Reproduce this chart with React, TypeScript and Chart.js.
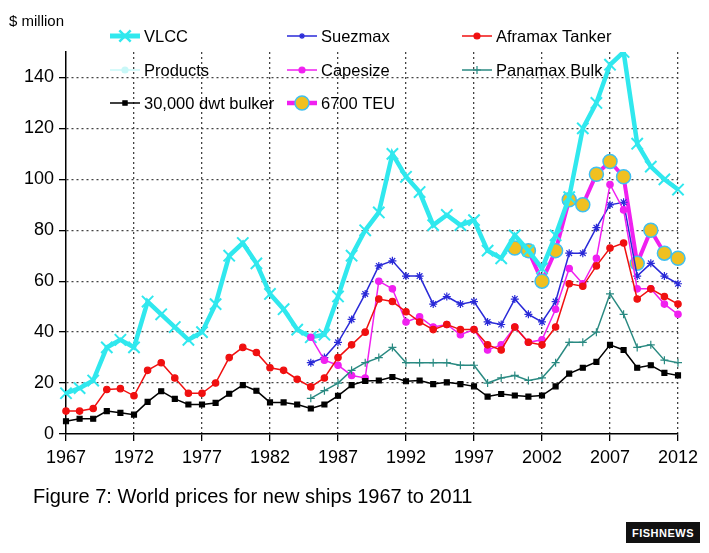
import React, { useEffect, useRef } from "react";
import { Chart, registerables } from "chart.js";
import { drawPoint } from "chart.js/helpers";
Chart.register(...registerables);

const years = Array.from({ length: 46 }, (_, i) => String(1967 + i));
const N = null;
const vlcc = [16,18,21,34,37,34,52,47,42,37,40,51,70,75,67,55,49,41,38,39,54,70,80,87,110,101,95,82,86,82,84,72,69,78,72,65,78,93,120,130,145,150,114,105,100,96];
const suezmax = [N,N,N,N,N,N,N,N,N,N,N,N,N,N,N,N,N,N,28,30,36,45,55,66,68,62,62,51,54,51,52,44,43,53,47,44,52,71,71,81,90,91,62,67,62,59];
const aframax = [9,9,10,17.5,17.8,15,25,28,22,16,16,20,30,34,32,26,25,21.5,18.5,22,30,35,40,53,52,48,44,41,43,41,41,35,33,42,36,35,42,59,58,66,73,75,53,57,54,51];
const products: (number | null)[] = [];
const capesize = [N,N,N,N,N,N,N,N,N,N,N,N,N,N,N,N,N,N,38,29,27,23,22,60,57,44,46,42,43,39,41,33,35,42,36,37,49,65,59,69,98,88,57,57,51,47];
const panamax = [N,N,N,N,N,N,N,N,N,N,N,N,N,N,N,N,N,N,14,17,20,25,28,30,34,28,28,28,28,27,27,20,22,23,21,22,28,36,36,40,55,47,34,35,29,28];
const bulker = [5,6,6,9,8.3,7.6,12.6,16.8,13.8,11.6,11.6,12.2,15.8,19.2,17,12.4,12.4,11.6,10,11.6,15,19.2,20.8,21,22.4,20.7,21,19.6,20.3,19.6,18.7,14.7,15.7,15.1,14.7,15.1,18.7,23.7,26,28.3,35,33,26,27,24,23];
const teu = [N,N,N,N,N,N,N,N,N,N,N,N,N,N,N,N,N,N,N,N,N,N,N,N,N,N,N,N,N,N,N,N,N,73,72,60,72,92,90,102,107,101,67,80,71,69];

const F = "'Liberation Sans', Arial, sans-serif";

type Entry = { label: string; x: number; y: number; color: string; lw: number; style: string; r: number; fill?: string; border?: string };
const legendEntries: Entry[] = [
  { label: "VLCC", x: 110, y: 36, color: "#30e8ee", lw: 5, style: "crossRot", r: 8 },
  { label: "Suezmax", x: 287, y: 36, color: "#2a2ad8", lw: 1.5, style: "star", r: 3 },
  { label: "Aframax Tanker", x: 462, y: 36, color: "#f01010", lw: 1.5, style: "circle", r: 3 },
  { label: "Products", x: 110, y: 70, color: "#c8f8f8", lw: 1.5, style: "circle", r: 3 },
  { label: "Capesize", x: 287, y: 70, color: "#f020f0", lw: 1.5, style: "circle", r: 3 },
  { label: "Panamax Bulk", x: 462, y: 70, color: "#2a8a82", lw: 1.5, style: "cross", r: 4 },
  { label: "30,000 dwt bulker", x: 110, y: 103, color: "#000000", lw: 1.5, style: "rect", r: 3 },
  { label: "6700 TEU", x: 287, y: 103, color: "#f020f0", lw: 4.5, style: "circle", r: 7, fill: "#f0c020", border: "#40c0f0" },
];

const legendPlugin = {
  id: "customLegend",
  afterDraw(chart: any) {
    const ctx = chart.ctx as CanvasRenderingContext2D;
    for (const e of legendEntries) {
      ctx.save();
      ctx.strokeStyle = e.color;
      ctx.lineWidth = e.lw;
      ctx.beginPath();
      ctx.moveTo(e.x, e.y);
      ctx.lineTo(e.x + 30, e.y);
      ctx.stroke();
      ctx.fillStyle = e.fill || e.color;
      ctx.strokeStyle = e.border || e.color;
      ctx.lineWidth = e.fill ? 1.5 : (e.style === "crossRot" ? 2.5 : 1.2);
      drawPoint(ctx, { pointStyle: e.style, radius: e.r, rotation: 0, borderWidth: ctx.lineWidth } as any, e.x + 15, e.y);
      ctx.fillStyle = "#000";
      ctx.font = `16.5px ${F}`;
      ctx.textBaseline = "middle";
      ctx.fillText(e.label, e.x + 34, e.y + 1);
      ctx.restore();
    }
  },
};

function ds(label: string, data: (number | null)[], color: string, lw: number, style: string, r: number, fill?: string, border?: string, bw = 1.2) {
  return {
    label, data, borderColor: color, borderWidth: lw, pointStyle: style, pointRadius: r,
    pointBackgroundColor: fill || color, pointBorderColor: border || color, pointBorderWidth: bw,
    spanGaps: false, tension: 0, fill: false,
  };
}

export default function App() {
  const ref = useRef<HTMLCanvasElement>(null);
  useEffect(() => {
    const chart = new Chart(ref.current!, {
      type: "line",
      data: {
        labels: years,
        datasets: [
          ds("30,000 dwt bulker", bulker, "#000000", 1.5, "rect", 3.5),
          ds("Panamax Bulk", panamax, "#2a8a82", 1.5, "cross", 4),
          ds("Aframax Tanker", aframax, "#f01010", 1.5, "circle", 3.2),
          ds("Capesize", capesize, "#f020f0", 1.5, "circle", 3.2),
          ds("Suezmax", suezmax, "#2a2ad8", 1.5, "star", 4),
          ds("Products", products, "#c8f8f8", 1.5, "circle", 3),
          ds("VLCC", vlcc, "#30e8ee", 4.5, "crossRot", 8, undefined, undefined, 2),
          ds("6700 TEU", teu, "#f020f0", 4, "circle", 7, "#f0c020", "#40c0f0", 1.5),
        ] as any,
      },
      options: {
        animation: false,
        responsive: false,
        layout: { padding: { left: 0, right: 31, top: 52, bottom: 0 } },
        plugins: { legend: { display: false }, tooltip: { enabled: false } },
        scales: {
          x: {
            offset: false,
            grid: {
              color: (c: any) => (c.index % 5 === 0 && c.index > 0 ? "#444" : "rgba(0,0,0,0)"),
              lineWidth: 1.3,
              tickLength: 7,
              tickColor: (c: any) => (c.index % 5 === 0 ? "#000" : "rgba(0,0,0,0)"),
            } as any,
            border: { color: "#000", width: 1.5, dash: [2, 3] } as any,
            ticks: {
              autoSkip: false, maxRotation: 0, padding: 6, color: "#000",
              font: { family: F, size: 18 },
              callback: (v: any, i: number) => (i % 5 === 0 ? years[i] : ""),
            },
            afterFit: (s: any) => { s.height = 119; },
          } as any,
          y: {
            min: 0, max: 150,
            grid: {
              color: (c: any) => (c.tick.value > 0 && c.tick.value <= 140 ? "#444" : "rgba(0,0,0,0)"),
              lineWidth: 1.3,
              tickLength: 7,
              tickColor: (c: any) => (c.tick.value <= 140 ? "#000" : "rgba(0,0,0,0)"),
            } as any,
            border: { color: "#000", width: 1.5, dash: [2, 3] } as any,
            ticks: {
              stepSize: 20, color: "#000", padding: 5,
              font: { family: F, size: 18 },
              callback: (v: any) => (v <= 140 && v % 20 === 0 ? String(v) : ""),
            },
            afterFit: (s: any) => { s.width = 66; },
          } as any,
        },
      },
      plugins: [legendPlugin as any],
    });
    return () => chart.destroy();
  }, []);
  return (
    <div style={{ position: "absolute", left: 0, top: 0, width: 709, height: 553, background: "#fff", overflow: "hidden" }}>
      <canvas ref={ref} width={709} height={553} style={{ position: "absolute", left: 0, top: 0 }} />
      <div style={{ position: "absolute", left: 9, top: 12, font: `15px ${F}`, color: "#000" }}>$ million</div>
      <div style={{ position: "absolute", left: 33, top: 485, font: `20px ${F}`, color: "#000" }}>Figure 7: World prices for new ships 1967 to 2011</div>
      <div style={{ position: "absolute", left: 626, top: 522, width: 74, height: 21, background: "#111", color: "#fff", font: `bold 11px ${F}`, display: "flex", alignItems: "center", justifyContent: "center", letterSpacing: 0.5 }}>FISHNEWS</div>
    </div>
  );
}
